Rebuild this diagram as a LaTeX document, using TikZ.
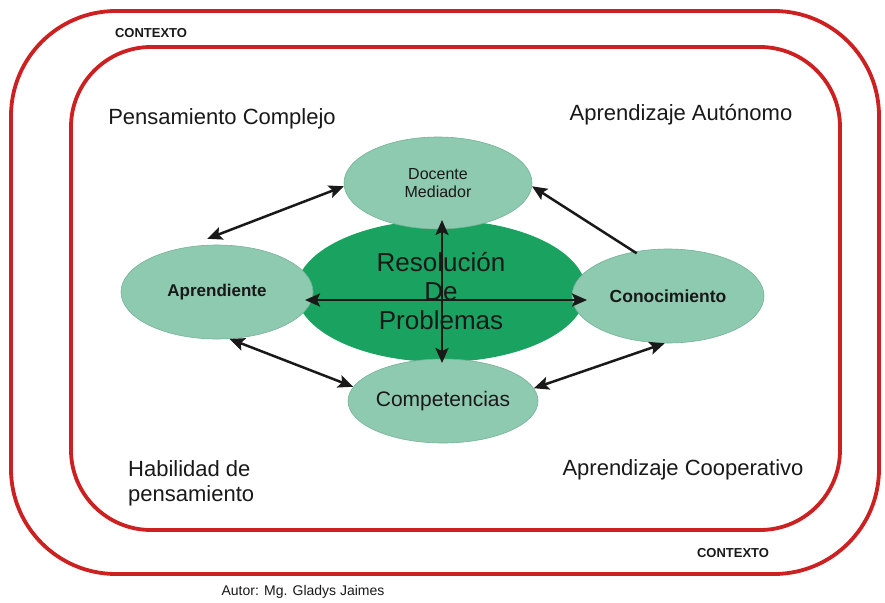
\documentclass[tikz,border=0pt]{standalone}
\usepackage{fontspec}
\setmainfont{Liberation Sans}
\usetikzlibrary{shapes.geometric,arrows.meta}
\definecolor{ctxred}{RGB}{205,32,32}
\definecolor{lightg}{RGB}{142,202,176}
\definecolor{lightgb}{RGB}{118,178,152}
\definecolor{darkg}{RGB}{26,163,96}
\definecolor{txt}{RGB}{25,25,25}
\tikzset{
  frame/.style={draw=ctxred, line width=3.8pt},
  oval/.style={ellipse, fill=lightg, draw=lightgb, line width=0.6pt, inner sep=0pt, text=txt},
  conn/.style={line width=2.5pt, draw=txt},
  tipA/.style={-{Stealth[length=15pt,width=13pt,inset=3pt]}},
  tipB/.style={{Stealth[length=15pt,width=13pt,inset=3pt]}-{Stealth[length=15pt,width=13pt,inset=3pt]}},
  lbl/.style={text=txt, inner sep=0pt},
}
\begin{document}
\begin{tikzpicture}[x=1pt,y=-1pt]
\useasboundingbox (0,0) rectangle (885,602);
\fill[white] (0,0) rectangle (885,602);
% frames
\draw[frame, rounded corners=105pt] (11,11) rectangle (879,574);
\draw[frame, rounded corners=80pt] (71,47) rectangle (840,530);
% labels
\node[lbl, font=\bfseries\fontsize{13}{15}\selectfont] (c1) at (151,33) {CONTEXTO};
\node[lbl, font=\bfseries\fontsize{13}{15}\selectfont] (c2) at (733,553) {CONTEXTO};
\node[lbl, font=\fontsize{22}{25}\selectfont] (pc) at (222,119) {Pensamiento Complejo};
\node[lbl, font=\fontsize{22}{25}\selectfont] (aa) at (681,115) {Aprendizaje Autónomo};
\node[lbl, font=\fontsize{22}{25}\selectfont, align=left, anchor=west] (hp) at (128,483) {Habilidad de\\pensamiento};
\node[lbl, font=\fontsize{22}{25}\selectfont] (ac) at (683,470) {Aprendizaje Cooperativo};
\node[lbl, font=\fontsize{14}{16}\selectfont] (au) at (303,592) {Autor: Mg. Gladys Jaimes};
% ellipses
\node[ellipse, fill=darkg, inner sep=0pt, minimum width=290pt, minimum height=142pt,
  text=txt, align=center, font=\fontsize{26}{29}\selectfont] (res) at (441,291) {Resolución\\De\\Problemas};
\node[oval, minimum width=188pt, minimum height=92pt, align=center, font=\fontsize{16}{18}\selectfont] (doc) at (438,183) {Docente\\Mediador};
\node[oval, minimum width=192pt, minimum height=94pt, font=\bfseries\fontsize{17}{19}\selectfont] (apr) at (217,292) {Aprendiente};
\node[oval, minimum width=192pt, minimum height=94pt, font=\bfseries\fontsize{17.5}{19}\selectfont] (con) at (668,296) {Conocimiento};
\node[oval, minimum width=190pt, minimum height=84pt, font=\fontsize{21}{23}\selectfont] (com) at (443,401) {Competencias};
% coordinates for inner arrows
\coordinate (hL) at (305,300);
\coordinate (hR) at (587,300);
\coordinate (vT) at (442,220);
\coordinate (vB) at (442,363);
% connectors
\draw[conn, tipB] (hL) -- (hR);
\draw[conn, tipB] (vB) -- (vT);
\draw[conn, tipB] ([yshift=6pt,xshift=-4pt]apr.97) -- (doc.182);
\draw[conn, tipA] ([yshift=-2pt]con.125) -- (doc.-2);
\draw[conn, tipB] (apr.-75) -- (com.171);
\draw[conn, tipB] (com.8) -- (con.-94);
\end{tikzpicture}
\end{document}
